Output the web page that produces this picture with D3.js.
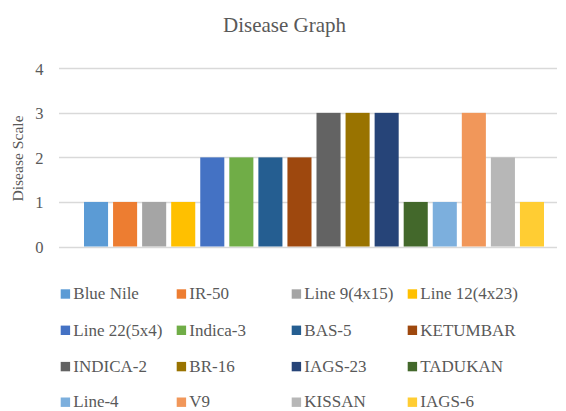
<!DOCTYPE html>
<html><head><meta charset="utf-8">
<script src="https://cdn.jsdelivr.net/npm/d3@7"></script>
<style>body{margin:0;background:#fff}svg{display:block}</style>
</head><body>
<svg id="c" width="566" height="411"></svg>
<script>
const seriesNames = ["Blue Nile","IR-50","Line 9(4x15)","Line 12(4x23)","Line 22(5x4)","Indica-3","BAS-5","KETUMBAR","INDICA-2","BR-16","IAGS-23","TADUKAN","Line-4","V9","KISSAN","IAGS-6"];
const seriesValues = [1,1,1,1,2,2,2,2,3,3,3,1,1,3,2,1];
const seriesColors = ["#5B9BD5","#ED7D31","#A5A5A5","#FFC000","#4472C4","#70AD47","#255E91","#9E480E","#636363","#997300","#264478","#43682B","#7CAFDD","#F1975A","#B7B7B7","#FFCD33"];
const yTicks = [0,1,2,3,4];
const titleText = "Disease Graph";
const yTitle = "Disease Scale";

const font = "'Liberation Serif', serif";
const svg = d3.select("#c");
const y = d3.scaleLinear().domain([0,4]).range([246.5,68.3]);
const x = d3.scaleBand().domain(seriesNames).range([84,544]).paddingInner(0.172).paddingOuter(0);

svg.append("text").attr("x",284.5).attr("y",31.5).attr("text-anchor","middle")
  .attr("font-family",font).attr("font-size",21).attr("fill","#595959").text(titleText);

const grid = svg.append("g");
grid.selectAll("line").data(yTicks).join("line")
  .attr("x1",59).attr("x2",557).attr("y1",d=>Math.round(y(d))+0.5).attr("y2",d=>Math.round(y(d))+0.5)
  .attr("stroke","#D9D9D9").attr("stroke-width",1.5);

const yAxis = d3.axisLeft(y).tickValues(yTicks).tickSize(0).tickPadding(0).tickFormat(d3.format("d"));
const ya = svg.append("g").attr("transform","translate(43.5,0)").call(yAxis);
ya.select(".domain").remove();
ya.selectAll("text").attr("font-family",font).attr("font-size",16.5).attr("fill","#595959").attr("dy","0.35em");

svg.append("text").attr("transform","translate(23,158.5) rotate(-90)").attr("text-anchor","middle")
  .attr("font-family",font).attr("font-size",15.6).attr("fill","#595959").text(yTitle);

svg.append("g").selectAll("rect").data(seriesNames).join("rect")
  .attr("x",d=>x(d)).attr("width",x.bandwidth())
  .attr("y",(d,i)=>y(seriesValues[i])).attr("height",(d,i)=>y(0)-y(seriesValues[i]))
  .attr("fill",(d,i)=>seriesColors[i]);

const colX = [60.7,176.7,291.7,407.7];
const rowY = [294,330.3,366.6,402.2];
const lg = svg.append("g").selectAll("g").data(seriesNames).join("g")
  .attr("transform",(d,i)=>`translate(${colX[i%4]},${rowY[Math.floor(i/4)]})`);
lg.append("rect").attr("x",0).attr("y",-4.7).attr("width",9.4).attr("height",9.4).attr("fill",(d,i)=>seriesColors[i]);
lg.append("text").attr("x",12.6).attr("y",5.2).attr("font-family",font).attr("font-size",17)
  .attr("fill","#595959").text(d=>d);
</script>
</body></html>
